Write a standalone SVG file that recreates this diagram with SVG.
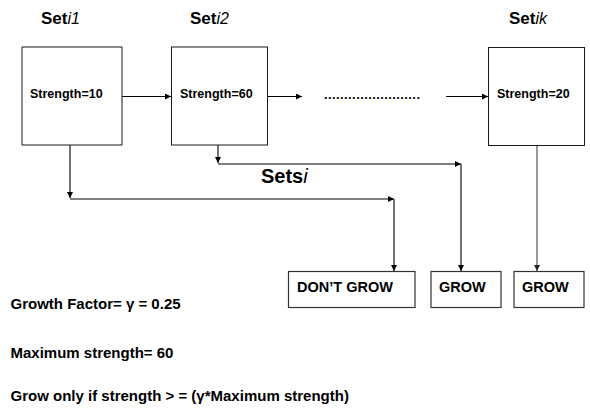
<svg xmlns="http://www.w3.org/2000/svg" width="590" height="408" viewBox="0 0 590 408">
  <style>
    .bg { fill: #ffffff; }
    .box { fill: #ffffff; stroke: #1a1a1a; stroke-width: 1; }
    .obox { fill: #ffffff; stroke: #333333; stroke-width: 1.2; }
    .t { font-family: "Liberation Sans", Arial, sans-serif; font-weight: bold; fill: #000; }
    .title { font-size: 17px; }
    .sub { font-weight: normal; font-style: italic; font-size: 16px; }
    .str { font-size: 12.5px; }
    .out { font-size: 14.5px; }
    .note { font-size: 15px; }
    .sets { font-size: 20px; }
    .subs { font-weight: normal; font-style: italic; font-size: 20px; }
    .ln { fill: none; stroke: #000; stroke-width: 1.1; marker-end: url(#ah); }
    .lng { fill: none; stroke: #555; stroke-width: 1.2; marker-end: url(#ahg); }
  </style>
  <defs>
    <marker id="ah" viewBox="0 0 10 10" refX="10" refY="5" markerWidth="6" markerHeight="6" markerUnits="userSpaceOnUse" orient="auto">
      <path d="M0,0 L10,5 L0,10 z" fill="#000"/>
    </marker>
    <marker id="ahg" viewBox="0 0 10 10" refX="10" refY="5" markerWidth="6" markerHeight="6" markerUnits="userSpaceOnUse" orient="auto">
      <path d="M0,0 L10,5 L0,10 z" fill="#222"/>
    </marker>
  </defs>
  <rect class="bg" x="0" y="0" width="590" height="408"/>

  <!-- connectors -->
  <g id="connectors">
    <line class="ln" x1="122" y1="96.5" x2="171" y2="96.5"/>
    <line class="ln" x1="268" y1="96.5" x2="302" y2="96.5"/>
    <line class="ln" x1="446" y1="96.5" x2="488" y2="96.5"/>
    <!-- Set i1 -> DON'T GROW -->
    <line class="ln" x1="70" y1="145" x2="70" y2="198"/>
    <line class="ln" x1="70" y1="199" x2="394" y2="199"/>
    <line class="ln" x1="394" y1="199" x2="394" y2="271"/>
    <!-- Set i2 -> GROW -->
    <line class="ln" x1="218" y1="145" x2="218" y2="163"/>
    <line class="ln" x1="218" y1="164" x2="461" y2="164"/>
    <line class="ln" x1="461" y1="164" x2="461" y2="271"/>
    <!-- Set ik -> GROW -->
    <line class="lng" x1="537" y1="145" x2="537" y2="271"/>
  </g>

  <!-- ellipsis between sets -->
  <text class="t" x="324" y="99" font-size="13" textLength="96" lengthAdjust="spacing">........................</text>

  <g id="set-i1">
    <text class="t title" x="41" y="24">Set<tspan class="sub">i1</tspan></text>
    <rect class="box" x="22" y="47" width="100" height="98"/>
    <text class="t str" x="30" y="98">Strength=10</text>
  </g>

  <g id="set-i2">
    <text class="t title" x="190" y="24">Set<tspan class="sub">i2</tspan></text>
    <rect class="box" x="171.5" y="47" width="96" height="98"/>
    <text class="t str" x="180" y="98">Strength=60</text>
  </g>

  <g id="set-ik">
    <text class="t title" x="509" y="24">Set<tspan class="sub">ik</tspan></text>
    <rect class="box" x="488.5" y="47.5" width="96" height="98"/>
    <text class="t str" x="497" y="98">Strength=20</text>
  </g>

  <g id="sets-label">
    <text class="t sets" x="261" y="183">Sets<tspan class="subs">i</tspan></text>
  </g>

  <g id="dont-grow">
    <rect class="obox" x="288.5" y="271.5" width="126.5" height="36"/>
    <text class="t out" x="297" y="292">DON’T GROW</text>
  </g>

  <g id="grow-1">
    <rect class="obox" x="431" y="271.5" width="70" height="36"/>
    <text class="t out" x="439" y="292">GROW</text>
  </g>

  <g id="grow-2">
    <rect class="obox" x="514" y="271.5" width="70" height="36"/>
    <text class="t out" x="522" y="292">GROW</text>
  </g>

  <g id="notes">
    <text class="t note" x="10.5" y="309">Growth Factor= γ = 0.25</text>
    <text class="t note" x="10.5" y="358">Maximum strength= 60</text>
    <text class="t note" x="10.5" y="401">Grow only if strength &gt; = (γ*Maximum strength)</text>
  </g>
</svg>
